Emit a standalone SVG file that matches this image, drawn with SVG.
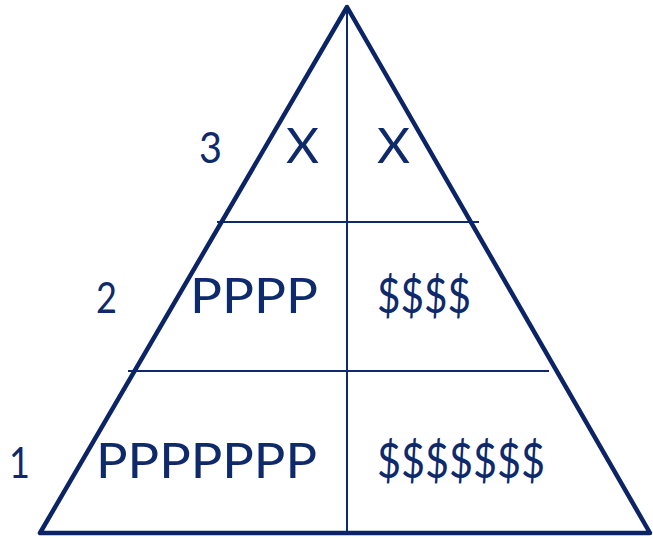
<svg xmlns="http://www.w3.org/2000/svg" width="653" height="540" viewBox="0 0 653 540">
<style>
.t{font-family:Lato,"Liberation Sans",Arial,sans-serif;fill:#0E2A6B}
.big{font-size:48px}
.num{font-size:42px}
.thin{stroke:#0E2A6B;stroke-width:2;fill:none}
</style>
<rect width="653" height="540" fill="#fff"/>
<g id="connectors">
<line class="thin" x1="347" y1="8" x2="347" y2="533"/>
<line class="thin" x1="217" y1="222" x2="479" y2="222"/>
<line class="thin" x1="128" y1="371" x2="549" y2="371"/>
</g>
<g id="triangle">
<polygon points="347,7 40,533 650,533" fill="none" stroke="#0B2466" stroke-width="4.5" stroke-linejoin="round"/>
</g>
<g id="level3">
<text class="t num" x="199" y="163" textLength="23" lengthAdjust="spacingAndGlyphs">3</text>
<text class="t big" x="286" y="163" textLength="33" lengthAdjust="spacingAndGlyphs">X</text>
<text class="t big" x="377" y="163" textLength="33" lengthAdjust="spacingAndGlyphs">X</text>
</g>
<g id="level2">
<text class="t num" x="96" y="313" textLength="21" lengthAdjust="spacingAndGlyphs">2</text>
<text class="t big" x="190" y="313" textLength="128" lengthAdjust="spacingAndGlyphs">PPPP</text>
<text class="t big" x="377" y="313" textLength="94" lengthAdjust="spacingAndGlyphs">$$$$</text>
</g>
<g id="level1">
<text class="t num" x="9" y="478" textLength="21" lengthAdjust="spacingAndGlyphs">1</text>
<text class="t big" x="96" y="478" textLength="221" lengthAdjust="spacingAndGlyphs">PPPPPPP</text>
<text class="t big" x="377" y="478" textLength="168" lengthAdjust="spacingAndGlyphs">$$$$$$$</text>
</g>
</svg>
